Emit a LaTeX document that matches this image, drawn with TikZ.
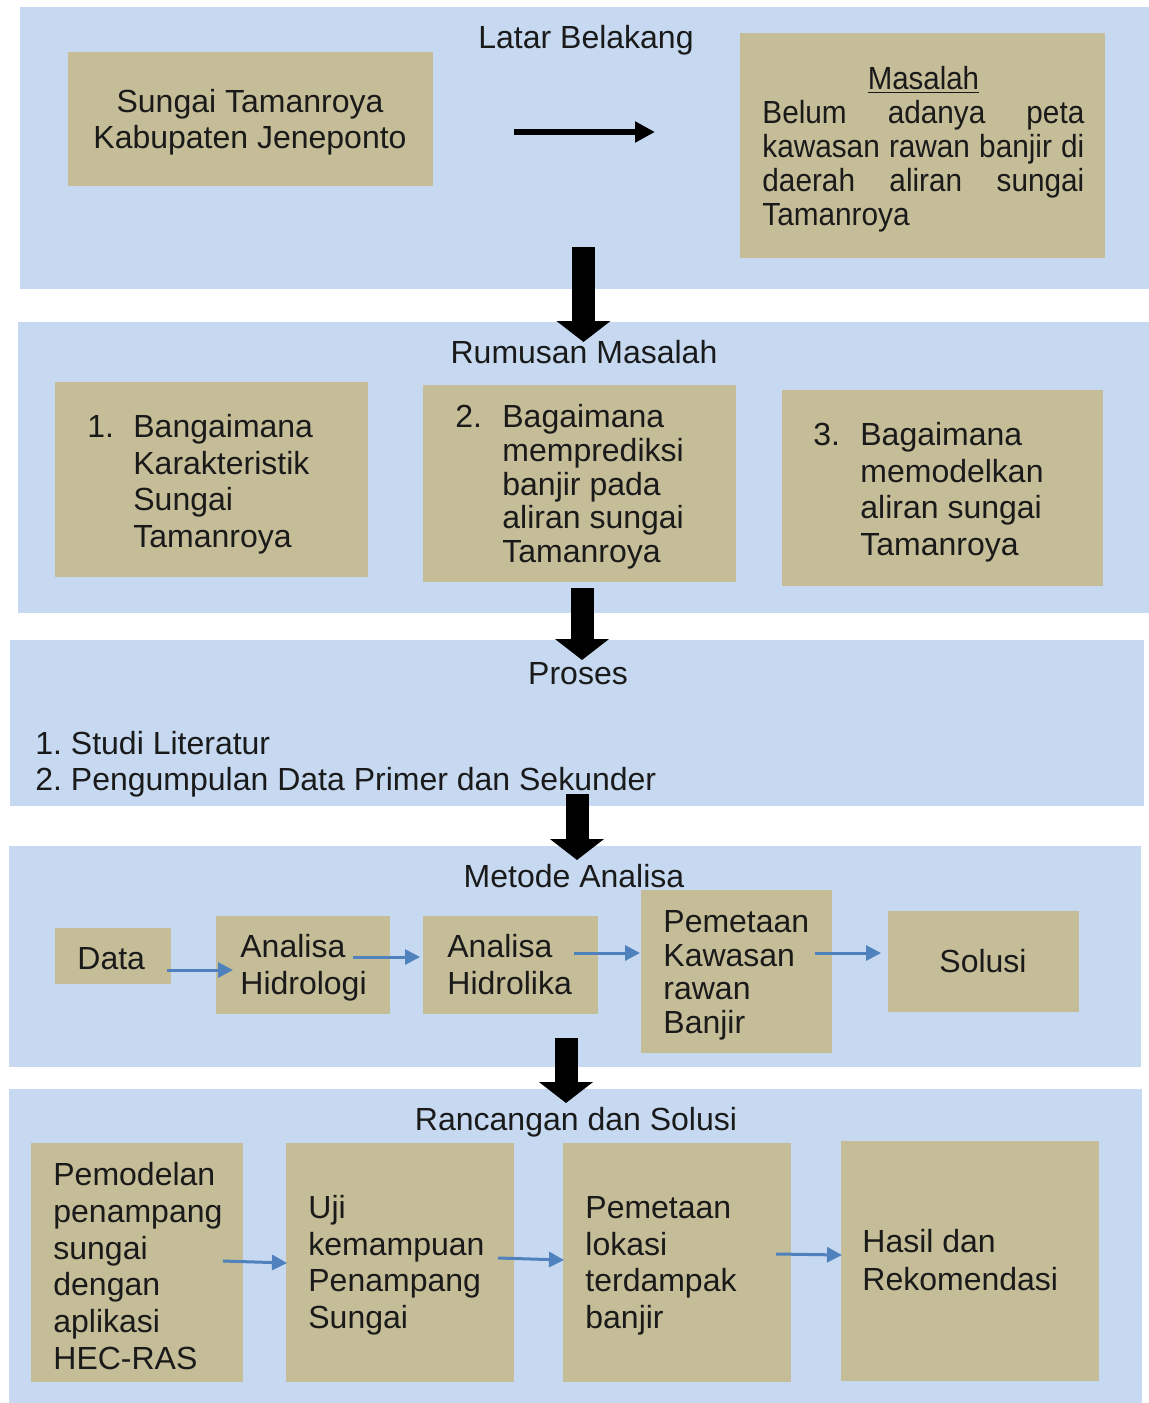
\documentclass[tikz,border=0pt]{standalone}
\usepackage{fontspec}
\setmainfont{Liberation Sans}
\usepackage{graphicx}
\usetikzlibrary{arrows.meta,fit}
\definecolor{bandc}{HTML}{C6D9F1}
\definecolor{boxc}{HTML}{C4BD97}
\definecolor{arrc}{HTML}{4F81BD}
\definecolor{txtc}{HTML}{1A1A1A}
\newcommand{\fs}{\rule{0pt}{12pt}}
\newcommand{\ind}{\hspace*{23pt}}
\frenchspacing
\begin{document}
\begin{tikzpicture}[x=0.5pt,y=-0.5pt,
  band/.style={fill=bandc, draw=none, inner sep=0pt},
  tanbox/.style={fill=boxc, draw=none, inner sep=0pt},
  ttl/.style={inner sep=0pt, anchor=base, text=txtc, font=\fontsize{16}{18}\selectfont},
  body/.style={inner sep=0pt, anchor=north west, align=left, text=txtc, font=\fontsize{16}{#1}\selectfont},
  body/.default=18,
  bigarrow/.style={line width=11.5pt, -{Triangle[length=10.5pt,width=26.5pt]}, black},
  blarrow/.style={line width=1.5pt, arrc, -{Triangle[length=7.5pt,width=7.5pt]}},
]
\useasboundingbox (0,0) rectangle (1149,1403);
\fill[white] (0,0) rectangle (1149,1403);
% bands
\node[band, fit={(20,7)(1149,289)}] (bLatar) {};
\node[band, fit={(18,322)(1149,613)}] (bRumusan) {};
\node[band, fit={(10,640)(1144,806)}] (bProses) {};
\node[band, fit={(9,846)(1141,1067)}] (bMetode) {};
\node[band, fit={(9,1089)(1142,1403)}] (bRancangan) {};
% boxes
\node[tanbox, fit={(68,52)(433,186)}] (sungai) {};
\node[tanbox, fit={(740,33)(1105,258)}] (masalah) {};
\node[tanbox, fit={(55,382)(368,577)}] (rm1) {};
\node[tanbox, fit={(423,385)(736,582)}] (rm2) {};
\node[tanbox, fit={(782,390)(1103,586)}] (rm3) {};
\node[tanbox, fit={(55,928)(171,984)}] (data) {};
\node[tanbox, fit={(216,916)(390,1014)}] (hidrologi) {};
\node[tanbox, fit={(423,916)(598,1014)}] (hidrolika) {};
\node[tanbox, fit={(641,890)(832,1053)}] (pemetaan) {};
\node[tanbox, fit={(888,911)(1079,1012)}] (solusi) {};
\node[tanbox, fit={(31,1143)(243,1382)}] (rs1) {};
\node[tanbox, fit={(286,1143)(514,1382)}] (rs2) {};
\node[tanbox, fit={(563,1143)(791,1382)}] (rs3) {};
\node[tanbox, fit={(841,1141)(1099,1381)}] (rs4) {};
% titles
\node[ttl] (tLatar) at (586,48) {Latar Belakang};
\node[ttl] (tRumusan) at (584,363) {Rumusan Masalah};
\node[ttl] (tProses) at (578,684) {Proses};
\node[ttl] (tMetode) at (574,887) {Metode Analisa};
\node[ttl] (tRancangan) at (576,1130) {Rancangan dan Solusi};
% texts
\node[body=18, align=center, anchor=north] (tSungai) at (250,88) {\fs Sungai Tamanroya\\Kabupaten Jeneponto};
\node[body=17] (tMasalah) at (762,65) {\fs\makebox[161pt][c]{\smash{\scalebox{0.92}[1]{\underline{Masalah}}}}\\
  \scalebox{0.93}[1]{\makebox[173.1pt][s]{Belum\hfill adanya\hfill peta}}\\
  \scalebox{0.93}[1]{\makebox[173.1pt][s]{kawasan\hfill rawan\hfill banjir\hfill di}}\\
  \scalebox{0.93}[1]{\makebox[173.1pt][s]{daerah\hfill aliran\hfill sungai}}\\
  \scalebox{0.93}[1]{Tamanroya}};
\node[body=18.35] (tRm1) at (87,413) {\fs\makebox[23pt][l]{1.}Bangaimana\\\ind Karakteristik\\\ind Sungai\\\ind Tamanroya};
\node[body=16.9] (tRm2) at (455,403) {\fs\makebox[23.5pt][l]{2.}Bagaimana\\\hspace*{23.5pt}memprediksi\\\hspace*{23.5pt}banjir pada\\\hspace*{23.5pt}aliran sungai\\\hspace*{23.5pt}Tamanroya};
\node[body=18.35] (tRm3) at (813,421) {\fs\makebox[23.5pt][l]{3.}Bagaimana\\\hspace*{23.5pt}memodelkan\\\hspace*{23.5pt}aliran sungai\\\hspace*{23.5pt}Tamanroya};
\node[body=18] (tProsesItems) at (35,730) {\fs 1. Studi Literatur\\2. Pengumpulan Data Primer dan Sekunder};
\node[body] (tData) at (77,945) {\fs Data};
\node[body=18.5] (tHidrologi) at (240,933) {\fs Analisa\\Hidrologi};
\node[body=18.5] (tHidrolika) at (447,933) {\fs Analisa\\Hidrolika};
\node[body=16.85] (tPemetaan) at (663,908) {\fs Pemetaan\\Kawasan\\rawan\\Banjir};
\node[ttl] (tSolusi) at (983,972) {Solusi};
\node[body=18.4] (tRs1) at (53,1161) {\fs Pemodelan\\penampang\\sungai\\dengan\\aplikasi\\HEC-RAS};
\node[body=18.35] (tRs2) at (308,1194) {\fs Uji\\kemampuan\\Penampang\\Sungai};
\node[body=18.35] (tRs3) at (585,1194) {\fs Pemetaan\\lokasi\\terdampak\\banjir};
\node[body=19] (tRs4) at (862,1228) {\fs Hasil dan\\Rekomendasi};
% connector end points
\coordinate (h1s) at (514,132);
\coordinate (h1e) at (655,132);
\coordinate (a1s) at (583.5,247);
\coordinate (a1e) at (583.5,342);
\coordinate (a2s) at (582,588);
\coordinate (a2e) at (582,660);
\coordinate (a3s) at (577,794);
\coordinate (a3e) at (577,860);
\coordinate (a4s) at (566,1038);
\coordinate (a4e) at (566,1103);
\coordinate (m1s) at (167,970);
\coordinate (m1e) at (233,970);
\coordinate (m2s) at (353,957);
\coordinate (m2e) at (420,957);
\coordinate (m3s) at (574,953);
\coordinate (m3e) at (640,953);
\coordinate (m4s) at (815,953);
\coordinate (m4e) at (881,953);
\coordinate (r1s) at (223,1261);
\coordinate (r1e) at (287,1263);
\coordinate (r2s) at (498,1258);
\coordinate (r2e) at (564,1260);
\coordinate (r3s) at (776,1254);
\coordinate (r3e) at (842,1255);
% connectors
\draw[line width=3pt, -{Triangle[length=10pt,width=10pt]}] (h1s) -- (h1e);
\draw[bigarrow] (a1s) -- (a1e);
\draw[bigarrow] (a2s) -- (a2e);
\draw[bigarrow] (a3s) -- (a3e);
\draw[bigarrow] (a4s) -- (a4e);
\draw[blarrow] (m1s) -- (m1e);
\draw[blarrow] (m2s) -- (m2e);
\draw[blarrow] (m3s) -- (m3e);
\draw[blarrow] (m4s) -- (m4e);
\draw[blarrow] (r1s) -- (r1e);
\draw[blarrow] (r2s) -- (r2e);
\draw[blarrow] (r3s) -- (r3e);
\end{tikzpicture}
\end{document}
